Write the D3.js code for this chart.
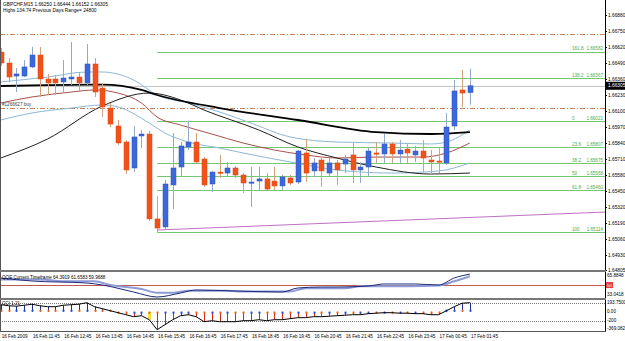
<!DOCTYPE html>
<meta charset="utf-8">
<body>
<script src="https://cdn.jsdelivr.net/npm/d3@7/dist/d3.min.js"></script>
<style>
    html, body {
        margin: 0;
        background: #fff;
    }
    svg text {
        font-family: "Liberation Sans", Arial, sans-serif;
    }
</style>
<script>
// GBPCHF M15 bars, 16 Feb 10:45 -> 17 Feb 01:45
var opens = [1.66579,1.66490,1.66384,1.66384,1.66458,1.66555,1.66360,1.66360,1.66336,1.66360,
    1.66376,1.66328,1.66482,1.66287,1.66124,1.65978,1.65848,1.65637,1.65897,1.65913,
    1.65223,1.65158,1.65499,1.65645,1.65808,1.65848,1.65710,1.65507,1.65604,1.65596,
    1.65637,1.65580,1.65515,1.65531,1.65548,1.65531,1.65491,1.65556,1.65523,1.65759,
    1.65613,1.65702,1.65596,1.65678,1.65669,1.65743,1.65621,1.65645,1.65759,1.65751,
    1.65832,1.65751,1.65791,1.65743,1.65775,1.65702,1.65694,1.65678,1.65978,1.66271,
    1.66250];
var highs = [1.66612,1.66531,1.66449,1.66514,1.66620,1.66620,1.66401,1.66393,1.66514,1.66661,
    1.66417,1.66644,1.66531,1.66328,1.66165,1.66027,1.65864,1.65978,1.65946,1.65938,
    1.65409,1.65539,1.65921,1.65848,1.66021,1.65921,1.65726,1.65613,1.65743,1.65686,
    1.65653,1.65596,1.65645,1.65645,1.65596,1.65645,1.65580,1.65580,1.65783,1.65873,
    1.65718,1.65718,1.65718,1.65702,1.65743,1.65840,1.65686,1.65808,1.65848,1.65913,
    1.65848,1.65864,1.65840,1.65816,1.65864,1.65783,1.65799,1.66084,1.66352,1.66433,
    1.66444];
var lows = [1.66466,1.66336,1.66254,1.66376,1.66449,1.66214,1.66230,1.66230,1.66246,1.66311,
    1.66254,1.66311,1.66214,1.66051,1.65970,1.65824,1.65588,1.65604,1.65799,1.65206,
    1.65114,1.65141,1.65304,1.65564,1.65783,1.65678,1.65483,1.65442,1.65556,1.65564,
    1.65556,1.65434,1.65320,1.65458,1.65458,1.65458,1.65458,1.65499,1.65507,1.65523,
    1.65564,1.65483,1.65564,1.65499,1.65596,1.65515,1.65515,1.65564,1.65678,1.65678,
    1.65678,1.65678,1.65678,1.65686,1.65604,1.65588,1.65596,1.65661,1.65946,1.66133,
    1.66152];
var closes = [1.66490,1.66376,1.66401,1.66458,1.66555,1.66360,1.66328,1.66328,1.66368,1.66376,
    1.66328,1.66482,1.66254,1.66133,1.65994,1.65840,1.65621,1.65889,1.65913,1.65223,
    1.65149,1.65507,1.65637,1.65816,1.65848,1.65686,1.65499,1.65604,1.65596,1.65637,
    1.65580,1.65515,1.65523,1.65548,1.65466,1.65491,1.65564,1.65515,1.65775,1.65596,
    1.65678,1.65613,1.65678,1.65621,1.65710,1.65621,1.65645,1.65775,1.65751,1.65832,
    1.65751,1.65783,1.65759,1.65775,1.65718,1.65686,1.65686,1.65970,1.66263,1.66246,
    1.66305];

// indicator lines: [bar index, value]
var maSlow = [[0,1.66303],[6,1.66311],[13,1.66315],[18,1.66271],[20,1.66230],[28,1.66124],
    [38,1.66027],[48,1.65929],[55,1.65913],[60,1.65929]];
var maFast = [[0,1.65718],[6,1.65873],[13,1.66141],[19,1.66246],[23,1.66190],[26,1.66108],
    [33,1.65946],[38,1.65808],[43,1.65718],[48,1.65645],[55,1.65588],[60,1.65596]];
var maMid = [[0,1.66165],[4,1.66214],[9,1.66254],[12,1.66271],[15,1.66246],[18,1.66165],
    [20,1.66051],[23,1.65986],[27,1.65913],[31,1.65840],[35,1.65783],[39,1.65743],
    [43,1.65718],[48,1.65726],[54,1.65726],[57,1.65759],[60,1.65840]];
var bandUp = [[0,1.66336],[6,1.66376],[11,1.66417],[13,1.66417],[17,1.66352],[20,1.66230],
    [24,1.66165],[28,1.66092],[32,1.66002],[37,1.65889],[43,1.65848],[50,1.65840],
    [55,1.65832],[57,1.65848],[60,1.65946]];
var bandLow = [[0,1.66027],[4,1.66084],[9,1.66124],[13,1.66149],[15,1.66133],[19,1.66002],
    [21,1.65921],[24,1.65848],[28,1.65799],[31,1.65759],[37,1.65686],[43,1.65621],
    [50,1.65596],[56,1.65613],[60,1.65678]];
var trendLine = [[20,1.65133],[77.3,1.65279]];

var fibNames = ["161.8","138.2","0","23.6","38.2","50","61.8","100"];
var fibPrices = [1.66582,1.66367,1.66021,1.65807,1.65675,1.65568,1.65460,1.65114];
var fibFrom = 20, fibTo = 24;
var orderLines = [1.66726, 1.66124];
var orderLabel = "#1266627 buy";

var priceTicks = [1.66880,1.66750,1.66620,1.66490,1.66360,1.66230,1.66100,1.65970,1.65840,
    1.65710,1.65580,1.65450,1.65320,1.65190,1.65060,1.64930,1.64805];
var lastPrice = 1.66305;

var qqeFast = [[0,59.32],[4,55.37],[11,52.75],[13,50.12],[17,40.92],[20,34.35],[23,39.61],
    [25,43.55],[30,42.24],[36,40.92],[38,46.18],[41,47.49],[43,47.49],[47,48.80],
    [49,51.43],[53,51.43],[56,50.12],[58,59.32],[60,64.39]];
var qqeSlow = [[0,57.5],[5,57.5],[8,55],[12,55],[14,50],[18,45],[20,40],[22,40],[24,42.5],
    [29,42.5],[31,41.5],[37,41.5],[39,46],[44,46],[46,48.5],[52,48.5],[56,49.5],[58,55],[60,61.66]];
var qqeLevel = 50;

var cci = [155,133,122,144,166,133,111,111,144,155,
    166,200,111,67,22,-22,-67,-111,-89,-178,
    -400,-289,-178,-89,-67,-111,-222,-200,-222,-222,
    -222,-200,-200,-178,-200,-178,-178,-155,-133,-133,
    -111,-111,-100,-89,-78,-67,-67,-44,-33,-22,
    -22,-33,-33,-44,-44,-67,-67,22,111,189,200];
var cciAlert = [19];

var timeLabels = ["16 Feb 2009","16 Feb 11:45","16 Feb 12:45","16 Feb 13:45","16 Feb 14:45",
    "16 Feb 15:45","16 Feb 16:45","16 Feb 17:45","16 Feb 18:45","16 Feb 19:45","16 Feb 20:45",
    "16 Feb 21:45","16 Feb 22:45","16 Feb 23:45","17 Feb 00:45","17 Feb 01:45"];

var width = 625, height = 341, right = 605;

var svg = d3.select("body").append("svg")
    .attr("width", width)
    .attr("height", height)
    .style("display", "block");

var x = d3.scaleLinear().domain([0, 60]).range([0.7, 469.9]),
    y = d3.scaleLinear().domain([1.64805, 1.66880]).range([270.4, 15]),
    yQ = d3.scaleLinear().domain([33.0418, 65.8848]).range([298, 273]),
    yC = d3.scaleLinear().domain([-200, 200]).range([320.7, 302.7]);

var lastX = x.invert(right);

svg.append("clipPath").attr("id", "main")
    .append("rect").attr("x", 0).attr("y", 0).attr("width", right).attr("height", 270);

var main = svg.append("g").attr("clip-path", "url(#main)");

// order / stop lines
main.selectAll(".order").data(orderLines).enter().append("line")
    .attr("x1", 0).attr("x2", right)
    .attr("y1", function(d) { return Math.round(y(d)) + 0.5; })
    .attr("y2", function(d) { return Math.round(y(d)) + 0.5; })
    .attr("stroke", "#c8835a")
    .attr("stroke-dasharray", "5,2,1,2");

main.append("text").attr("x", 2).attr("y", y(orderLines[1]) - 2)
    .attr("font-size", 4.6).attr("fill", "#444").text(orderLabel);

// bid line
main.append("line")
    .attr("x1", 0).attr("x2", right)
    .attr("y1", Math.round(y(lastPrice)) + 0.5).attr("y2", Math.round(y(lastPrice)) + 0.5)
    .attr("stroke", "#c4c4c4");

// fibo levels
var fib = main.selectAll(".fib").data(fibPrices).enter().append("g");
fib.append("line")
    .attr("x1", x(fibFrom)).attr("x2", right)
    .attr("y1", function(d) { return Math.round(y(d)) + 0.5; })
    .attr("y2", function(d) { return Math.round(y(d)) + 0.5; })
    .attr("stroke", "#74c874");
fib.append("text")
    .attr("x", 572).attr("y", function(d) { return y(d) - 1.2; })
    .attr("font-size", 4.6).attr("fill", "#4caa4c")
    .text(function(d, i) { return fibNames[i]; });
fib.append("text")
    .attr("x", 603).attr("y", function(d) { return y(d) - 1.2; })
    .attr("text-anchor", "end")
    .attr("font-size", 4.6).attr("fill", "#4caa4c")
    .text(function(d) { return d.toFixed(5); });

main.append("line")
    .attr("x1", x(fibFrom)).attr("y1", y(lows[fibFrom]))
    .attr("x2", x(fibTo)).attr("y2", y(highs[fibTo]))
    .attr("stroke", "#e8d890")
    .attr("stroke-dasharray", "1,1.5");

// trend line
main.append("line")
    .attr("x1", x(trendLine[0][0])).attr("y1", y(trendLine[0][1]))
    .attr("x2", x(trendLine[1][0])).attr("y2", y(trendLine[1][1]))
    .attr("stroke", "#c070c8");

var line = d3.line()
    .x(function(d) { return x(d[0]); })
    .y(function(d) { return y(d[1]); })
    .curve(d3.curveMonotoneX);

[[bandUp, "#8cb8d4", 1], [bandLow, "#8cb8d4", 1], [maMid, "#a8504a", 1],
 [maFast, "#202020", 1], [maSlow, "#000", 1.8]].forEach(function(s) {
    main.append("path").datum(s[0])
        .attr("fill", "none").attr("stroke", s[1]).attr("stroke-width", s[2])
        .attr("d", line);
});

// candles
var bars = main.selectAll(".bar").data(d3.range(opens.length)).enter().append("g");
bars.append("line")
    .attr("x1", function(i) { return Math.round(x(i)) + 0.5; })
    .attr("x2", function(i) { return Math.round(x(i)) + 0.5; })
    .attr("y1", function(i) { return y(highs[i]); })
    .attr("y2", function(i) { return y(lows[i]); })
    .attr("stroke", function(i) { return closes[i] >= opens[i] ? "#94a9c8" : "#cfa27c"; });
bars.append("rect")
    .attr("x", function(i) { return Math.round(x(i)) - 2; })
    .attr("width", 5)
    .attr("y", function(i) { return y(Math.max(opens[i], closes[i])); })
    .attr("height", function(i) { return Math.max(1.2, Math.abs(y(opens[i]) - y(closes[i]))); })
    .attr("fill", function(i) { return closes[i] >= opens[i] ? "#3c68dc" : "#f2521a"; })
    .attr("stroke", function(i) { return closes[i] >= opens[i] ? "#2c52b8" : "#e04610"; })
    .attr("stroke-width", 0.5);

// header
svg.append("text").attr("x", 3).attr("y", 6).attr("font-size", 4.8)
    .text("GBPCHF,M15  1.66250 1.66444 1.66152 1.66305");
svg.append("text").attr("x", 3).attr("y", 11.5).attr("font-size", 4.8)
    .text("Highs 134.74    Previous Days Range= 24800");

// price axis
var ax = svg.append("g");
ax.selectAll("text").data(priceTicks).enter().append("text")
    .attr("x", 608).attr("y", function(d) { return y(d) + 1.7; })
    .attr("font-size", 4.8)
    .text(function(d) { return d.toFixed(5); });
ax.selectAll("line").data(priceTicks).enter().append("line")
    .attr("x1", right).attr("x2", right + 2)
    .attr("y1", function(d) { return Math.round(y(d)) + 0.5; })
    .attr("y2", function(d) { return Math.round(y(d)) + 0.5; })
    .attr("stroke", "#000");
ax.append("rect").attr("x", right).attr("y", y(lastPrice) - 4)
    .attr("width", 20).attr("height", 8).attr("fill", "#000");
ax.append("text").attr("x", 608).attr("y", y(lastPrice) + 1.7)
    .attr("font-size", 4.8).attr("fill", "#fff").text(lastPrice.toFixed(5));

// QQE panel
var qline = d3.line()
    .x(function(d) { return x(d[0]); })
    .y(function(d) { return yQ(d[1]); })
    .curve(d3.curveMonotoneX);
svg.append("line").attr("x1", 0).attr("x2", right)
    .attr("y1", Math.round(yQ(qqeLevel)) + 0.5).attr("y2", Math.round(yQ(qqeLevel)) + 0.5)
    .attr("stroke", "#c05a50");
svg.append("path").datum(qqeSlow).attr("fill", "none")
    .attr("stroke", "#8c9ad8").attr("stroke-width", 2).attr("d", qline);
svg.append("path").datum(qqeFast).attr("fill", "none")
    .attr("stroke", "#1c2a78").attr("stroke-width", 1).attr("d", qline);
svg.append("text").attr("x", 2).attr("y", 278.5).attr("font-size", 4.6)
    .text("QQE Current Timeframe 64.3919 61.6583 59.9688");
svg.append("text").attr("x", 607).attr("y", yQ.range()[1] + 3.5).attr("font-size", 4.6)
    .text(yQ.domain()[1].toFixed(4));
svg.append("text").attr("x", 607).attr("y", yQ.range()[0] - 2).attr("font-size", 4.6)
    .text(yQ.domain()[0].toFixed(4));
svg.append("rect").attr("x", 606).attr("y", yQ(qqeLevel) - 3)
    .attr("width", 7).attr("height", 6).attr("fill", "#e03a3a");
svg.append("text").attr("x", 607).attr("y", yQ(qqeLevel) + 1.7).attr("font-size", 4.4)
    .attr("fill", "#fff").text(qqeLevel);

// CCI panel
[200, -200].forEach(function(v) {
    svg.append("line").attr("x1", 0).attr("x2", right)
        .attr("y1", Math.round(yC(v)) + 0.5).attr("y2", Math.round(yC(v)) + 0.5)
        .attr("stroke", "#777").attr("stroke-dasharray", "1,1");
});
var sticks = svg.selectAll(".cci").data(d3.range(cci.length)).enter().append("g");
sticks.append("line")
    .attr("x1", function(i) { return Math.round(x(i)) + 0.5; })
    .attr("x2", function(i) { return Math.round(x(i)) + 0.5; })
    .attr("y1", yC(0))
    .attr("y2", function(i) { return yC(cci[i]); })
    .attr("stroke", function(i) {
        if (cciAlert.indexOf(i) >= 0) return "#f0e040";
        return cci[i] >= 0 ? "#1e2c8c" : "#d8281c";
    })
    .attr("stroke-width", function(i) { return cciAlert.indexOf(i) >= 0 ? 3 : 1; });
sticks.append("rect")
    .attr("x", function(i) { return Math.round(x(i)) - 0.5; })
    .attr("y", function(i) { return cci[i] >= 0 ? yC(0) - 2 : yC(0); })
    .attr("width", 2).attr("height", 2)
    .attr("fill", function(i) { return closes[i] >= opens[i] ? "#2a4cd0" : "#f0601a"; });
svg.append("path").datum(cci.map(function(v, i) { return [i, v]; }))
    .attr("fill", "none").attr("stroke", "#000")
    .attr("d", d3.line()
        .x(function(d) { return x(d[0]); })
        .y(function(d) { return yC(d[1]); }));
svg.append("text").attr("x", 2).attr("y", 305).attr("font-size", 4.6).text("CCI 1.21");
[["193.7500", 302.7], ["0.00", yC(0)], ["-200", yC(-200)], ["-369.082", 328.3]].forEach(function(d) {
    svg.append("text").attr("x", 607).attr("y", d[1] + 1.7).attr("font-size", 4.6).text(d[0]);
});

// frames and splitters
svg.append("line").attr("x1", 0.5).attr("x2", 0.5).attr("y1", 0).attr("y2", 332).attr("stroke", "#555");
svg.append("line").attr("x1", right + 0.5).attr("x2", right + 0.5).attr("y1", 0).attr("y2", 332).attr("stroke", "#000");
[270, 298].forEach(function(t) {
    svg.append("rect").attr("x", 0).attr("y", t).attr("width", right + 1).attr("height", 2).attr("fill", "#777");
});
svg.append("line").attr("x1", 0).attr("x2", right + 1).attr("y1", 331.5).attr("y2", 331.5).attr("stroke", "#555");

// time axis
svg.selectAll(".tl").data(timeLabels).enter().append("text")
    .attr("x", function(d, k) { return x(k * 4) + 1; })
    .attr("y", 338)
    .attr("font-size", 4.6)
    .text(function(d) { return d; });
</script>
